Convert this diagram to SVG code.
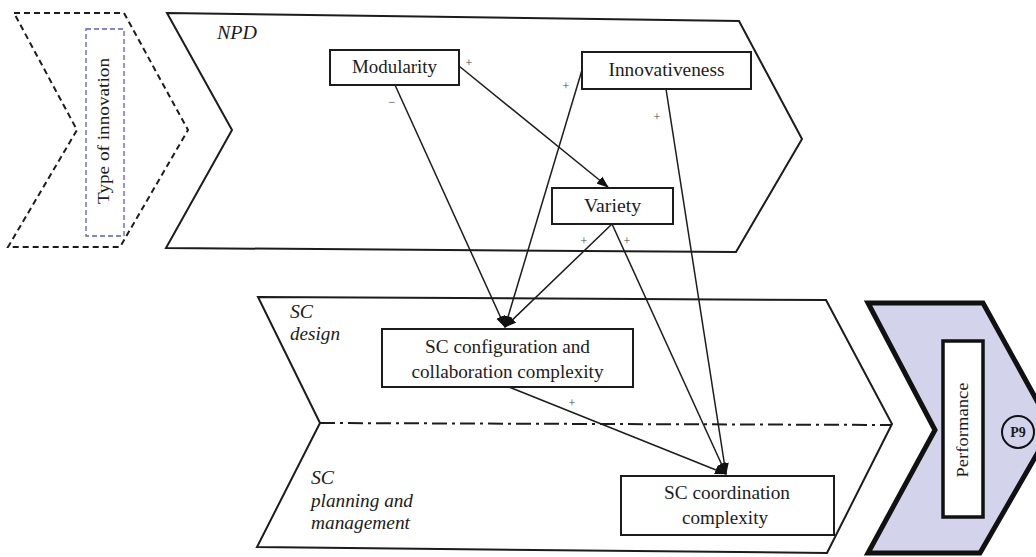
<svg xmlns="http://www.w3.org/2000/svg" width="1036" height="557" viewBox="0 0 1036 557">
  <style>
    .band { fill: #ffffff; stroke: #1c1c1c; stroke-width: 2; stroke-linejoin: miter; }
    .dashed { fill: none; stroke: #1c1c1c; stroke-width: 2; stroke-dasharray: 6 4; }
    .inner { fill: none; stroke: #5a5ad8; stroke-width: 1.3; stroke-dasharray: 5 3; }
    .box { fill: #ffffff; stroke: #1c1c1c; stroke-width: 2; }
    .lbl { font-family: "Liberation Serif", "Times New Roman", serif; fill: #1c1c1c; }
    .node { font-size: 18px; text-anchor: middle; }
    .lane { font-size: 18px; font-style: italic; }
    .sign { font-family: "Liberation Serif", serif; font-size: 12px; fill: #444; text-anchor: middle; }
    .edge { fill: none; stroke: #1c1c1c; stroke-width: 1.5; }
  </style>
  <defs>
    <marker id="arrow" markerUnits="userSpaceOnUse" markerWidth="12" markerHeight="10" refX="11" refY="5" orient="auto">
      <path d="M0,0.5 L12,5 L0,9.5 Z" fill="#111"/>
    </marker>
  </defs>

  <!-- Type of innovation (dashed chevron) -->
  <g id="type-of-innovation">
    <polygon class="dashed" points="14,13 124,13 188,130 120,247 8,247 77,130"/>
    <rect class="inner" x="86" y="29" width="38" height="207"/>
    <text class="lbl" font-size="17" text-anchor="middle" transform="translate(109,131) rotate(-90)" textLength="146" lengthAdjust="spacingAndGlyphs">Type of innovation</text>
  </g>

  <!-- NPD band -->
  <g id="npd">
    <polygon class="band" points="167,13 739,21 802,139 736,252 166,248 232,130"/>
    <text class="lbl lane" x="217" y="39" textLength="40" lengthAdjust="spacingAndGlyphs">NPD</text>
  </g>

  <!-- SC design / planning and management band -->
  <g id="sc-band">
    <polygon class="band" points="258,297 826,300 892,424 827,553 257,547 320,423"/>
    <line x1="320" y1="423" x2="892" y2="425" stroke="#1c1c1c" stroke-width="2" stroke-dasharray="15 5 3 5"/>
    <text class="lbl lane" x="290" y="318" textLength="23" lengthAdjust="spacingAndGlyphs">SC</text>
    <text class="lbl lane" x="290" y="340" textLength="50" lengthAdjust="spacingAndGlyphs">design</text>
    <text class="lbl lane" x="311" y="484" textLength="23" lengthAdjust="spacingAndGlyphs">SC</text>
    <text class="lbl lane" x="311" y="507" textLength="102" lengthAdjust="spacingAndGlyphs">planning and</text>
    <text class="lbl lane" x="311" y="529" textLength="99" lengthAdjust="spacingAndGlyphs">management</text>
  </g>

  <!-- Performance chevron -->
  <g id="performance">
    <polygon points="868,303 983,303 1052,428 980,553 868,553 935,430" fill="#d3d4eb" stroke="#111" stroke-width="5" stroke-linejoin="miter"/>
    <rect x="943" y="341" width="40" height="176" fill="#ffffff" stroke="#111" stroke-width="3.5"/>
    <text class="lbl" font-size="17" text-anchor="middle" transform="translate(968,430) rotate(-90)" textLength="95" lengthAdjust="spacingAndGlyphs">Performance</text>
    <circle cx="1018" cy="432" r="16" fill="#d3d4eb" stroke="#111" stroke-width="2"/>
    <text class="lbl" font-size="14" font-weight="bold" text-anchor="middle" x="1018" y="437">P9</text>
  </g>

  <!-- Connectors -->
  <g id="connectors">
    <line class="edge" x1="459" y1="66" x2="608" y2="187" marker-end="url(#arrow)"/>
    <line class="edge" x1="395" y1="85" x2="505" y2="327" marker-end="url(#arrow)"/>
    <line class="edge" x1="582" y1="70" x2="505" y2="327" marker-end="url(#arrow)"/>
    <line class="edge" x1="612" y1="224" x2="505" y2="327" marker-end="url(#arrow)"/>
    <line class="edge" x1="666" y1="89" x2="726" y2="474" marker-end="url(#arrow)"/>
    <line class="edge" x1="612" y1="224" x2="726" y2="474" marker-end="url(#arrow)"/>
    <line class="edge" x1="509" y1="387" x2="726" y2="474" marker-end="url(#arrow)"/>
    <text class="sign" x="469" y="67">+</text>
    <text class="sign" x="392" y="106" font-size="14">−</text>
    <text class="sign" x="566" y="90">+</text>
    <text class="sign" x="657" y="121">+</text>
    <text class="sign" x="584" y="245">+</text>
    <text class="sign" x="627" y="245">+</text>
    <text class="sign" x="572" y="407">+</text>
  </g>

  <!-- Nodes -->
  <g id="modularity">
    <rect class="box" x="330" y="50" width="129" height="35"/>
    <text class="lbl node" x="394.5" y="73" textLength="85" lengthAdjust="spacingAndGlyphs">Modularity</text>
  </g>
  <g id="innovativeness">
    <rect class="box" x="582" y="52" width="169" height="37"/>
    <text class="lbl node" x="666.5" y="76" textLength="116" lengthAdjust="spacingAndGlyphs">Innovativeness</text>
  </g>
  <g id="variety">
    <rect class="box" x="552" y="188" width="121" height="36"/>
    <text class="lbl node" x="612.5" y="212" textLength="57" lengthAdjust="spacingAndGlyphs">Variety</text>
  </g>
  <g id="sc-configuration">
    <rect class="box" x="382" y="329" width="251" height="58"/>
    <text class="lbl node" x="507.5" y="353" textLength="165" lengthAdjust="spacingAndGlyphs">SC configuration and</text>
    <text class="lbl node" x="507.5" y="378" textLength="192" lengthAdjust="spacingAndGlyphs">collaboration complexity</text>
  </g>
  <g id="sc-coordination">
    <rect class="box" x="621" y="476" width="213" height="59"/>
    <text class="lbl node" x="727" y="499" textLength="126" lengthAdjust="spacingAndGlyphs">SC coordination</text>
    <text class="lbl node" x="725" y="524" textLength="86" lengthAdjust="spacingAndGlyphs">complexity</text>
  </g>
</svg>
